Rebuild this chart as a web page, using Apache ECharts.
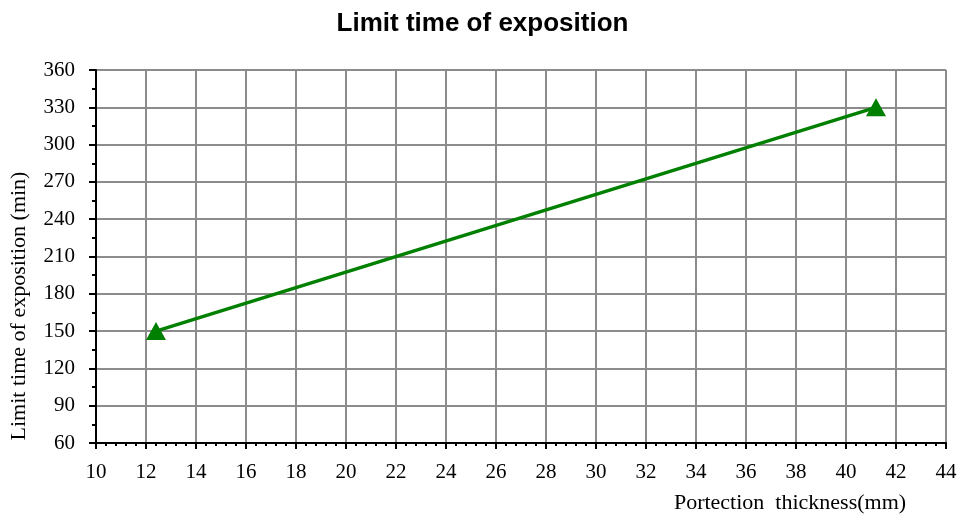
<!DOCTYPE html>
<html>
<head>
<meta charset="utf-8">
<script src="https://cdn.jsdelivr.net/npm/echarts@6/dist/echarts.min.js"></script>
<style>
html, body { margin: 0; padding: 0; background: #fff; }
#main { width: 965px; height: 515px; }
</style>
</head>
<body>
<div id="main"></div>
<script>
// data
var thickness = [12.4, 41.2];
var limitTime = [150, 330];

var points = [];
for (var i = 0; i < thickness.length; i++) {
    points.push([thickness[i], limitTime[i]]);
}

var myChart = echarts.init(document.getElementById('main'));

var option = {
    backgroundColor: '#fff',
    animation: false,
    title: {
        text: 'Limit time of exposition',
        left: 'center',
        top: 6,
        textStyle: {
            fontFamily: 'Liberation Sans',
            fontWeight: 'bold',
            fontSize: 26,
            color: '#000'
        }
    },
    grid: {
        left: 96,
        right: 19,
        top: 70,
        bottom: 72
    },
    xAxis: {
        type: 'value',
        min: 10,
        max: 44,
        interval: 2,
        axisLine: { lineStyle: { color: '#000', width: 2 } },
        axisTick: { show: true, length: 6, lineStyle: { color: '#000', width: 2 } },
        minorTick: { show: true, splitNumber: 5, length: 3, lineStyle: { color: '#000', width: 2 } },
        axisLabel: {
            margin: 19,
            fontFamily: 'Liberation Serif',
            fontSize: 21,
            color: '#000'
        },
        splitLine: { show: true, lineStyle: { color: '#8c8c8c', width: 2 } }
    },
    yAxis: {
        type: 'value',
        min: 60,
        max: 360,
        interval: 30,
        axisLine: { show: true, lineStyle: { color: '#000', width: 2 } },
        axisTick: { show: true, length: 7, lineStyle: { color: '#000', width: 2 } },
        minorTick: { show: true, splitNumber: 2, length: 4, lineStyle: { color: '#000', width: 2 } },
        axisLabel: {
            margin: 21,
            fontFamily: 'Liberation Serif',
            fontSize: 21,
            color: '#000'
        },
        splitLine: { show: true, lineStyle: { color: '#8c8c8c', width: 2 } }
    },
    graphic: [
        {
            type: 'text',
            x: 19,
            y: 306,
            rotation: Math.PI / 2,
            style: {
                text: 'Limit time of exposition (min)',
                font: '22px "Liberation Serif"',
                fill: '#000',
                align: 'center',
                verticalAlign: 'middle'
            }
        },
        {
            type: 'text',
            x: 790,
            y: 503,
            style: {
                text: 'Portection  thickness(mm)',
                font: '22px "Liberation Serif"',
                fill: '#000',
                align: 'center',
                verticalAlign: 'middle'
            }
        }
    ],
    series: [
        {
            type: 'line',
            data: points,
            symbol: 'triangle',
            symbolSize: [20, 18],
            showAllSymbol: true,
            lineStyle: { color: '#008000', width: 3.5 },
            itemStyle: { color: '#008000' }
        }
    ]
};
myChart.setOption(option);
</script>
</body>
</html>
